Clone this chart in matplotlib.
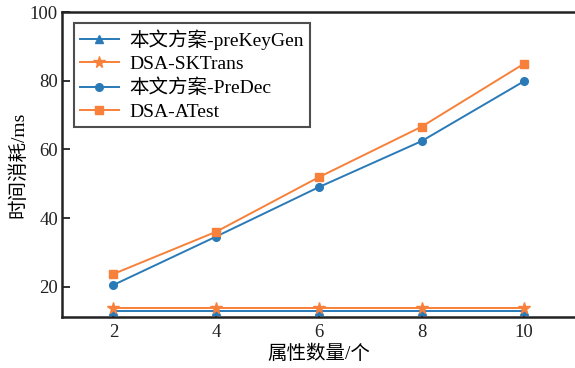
import matplotlib
matplotlib.use("Agg")
import matplotlib.pyplot as plt

plt.rcParams['font.family'] = ['Liberation Serif', 'Noto Sans CJK SC', 'DejaVu Sans']
plt.rcParams['axes.unicode_minus'] = False

# attribute counts on the x axis
attrs = [2, 4, 6, 8, 10]
# time cost (ms) of each scheme
prekeygen = [13.0, 13.0, 13.0, 13.0, 13.0]
sktrans = [13.7, 13.7, 13.7, 13.7, 13.7]
predec = [20.5, 34.6, 49.0, 62.4, 79.9]
atest = [23.7, 36.0, 51.9, 66.6, 85.0]

labels = ['本文方案-preKeyGen', 'DSA-SKTrans', '本文方案-PreDec', 'DSA-ATest']
xticks = [2, 4, 6, 8, 10]
yticks = [20, 40, 60, 80, 100]

blue = '#2a7ab7'
orange = '#f7803a'

fig = plt.figure(figsize=(5.75, 3.68), dpi=100)
ax = fig.add_axes([0.108, 0.139, 0.893, 0.828])

ax.plot(attrs, prekeygen, color=blue, marker='^', markersize=6, lw=1.4, label=labels[0])
ax.plot(attrs, sktrans, color=orange, marker='*', markersize=8.5, lw=1.4, label=labels[1])
ax.plot(attrs, predec, color=blue, marker='o', markersize=5.5, lw=1.4, label=labels[2])
ax.plot(attrs, atest, color=orange, marker='s', markersize=5.5, lw=1.4, label=labels[3])

ax.set_xlim(1, 11)
ax.set_ylim(11.2, 100)
ax.set_xticks(xticks)
ax.set_yticks(yticks)
ax.tick_params(direction='in', length=6, width=1.3, labelsize=13.5, colors='#222222')
ax.tick_params(axis='x', pad=5)
ax.tick_params(axis='y', pad=3)
for s in ax.spines.values():
    s.set_linewidth(1.8)
    s.set_color('#222222')
ax.spines['right'].set_visible(False)

ax.set_xlabel('属性数量/个', fontsize=14, labelpad=3)
ax.set_ylabel('时间消耗/ms', fontsize=14, labelpad=2)

leg = ax.legend(loc='upper left', bbox_to_anchor=(0.023, 0.964), fontsize=14,
                frameon=True, fancybox=False, edgecolor='#222222',
                borderpad=0.3, labelspacing=0.3, handlelength=2.0,
                handletextpad=0.55, borderaxespad=0.0)
leg.get_frame().set_linewidth(1.5)

fig.savefig('out.png', dpi=100)
